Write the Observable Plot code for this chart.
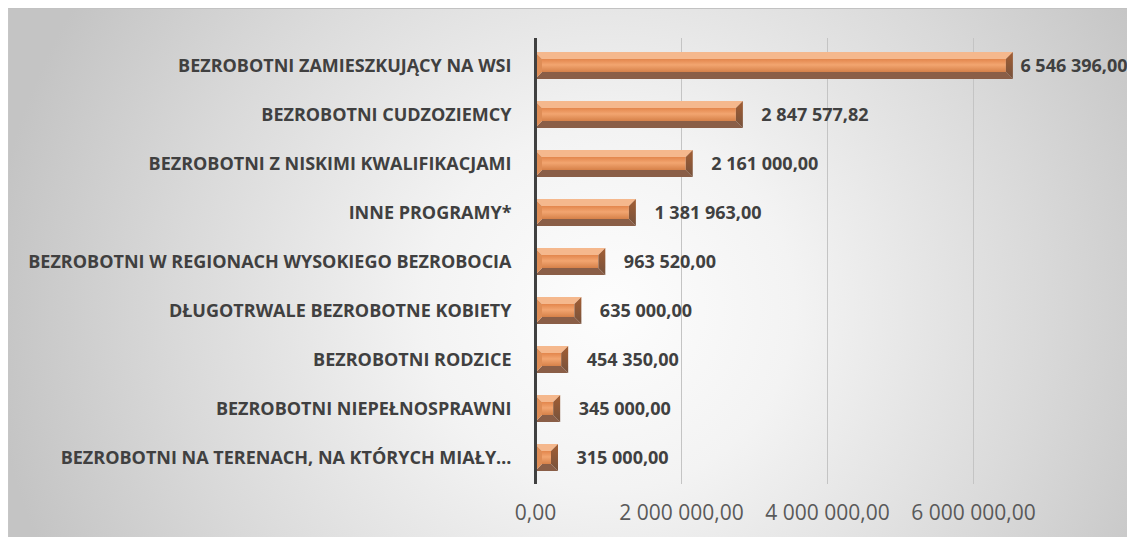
<!DOCTYPE html>
<html>
<head>
<meta charset="utf-8">
<script src="https://cdn.jsdelivr.net/npm/d3@7"></script>
<script src="https://cdn.jsdelivr.net/npm/@observablehq/plot@0.6"></script>
<style>
  html, body { margin: 0; padding: 0; background: #ffffff; }
  #wrap { position: relative; width: 1127px; height: 537px; overflow: hidden; }
  #bg {
    position: absolute; left: 8px; top: 8px; right: -2px; bottom: -2px;
    border-top: 1.5px solid #c2c2c2; border-left: 1.5px solid #c6c6c6;
    background: radial-gradient(ellipse 620px 600px at 600px 300px, #fdfdfd 0%, #f3f3f3 30%, #d9d9d9 70%, #c4c4c4 100%);
  }
  #chart { position: absolute; left: 0; top: 0; }
  #chart svg { background: transparent; font-family: "Open Sans", sans-serif; }
</style>
</head>
<body>
<div id="wrap"><div id="bg"></div><div id="chart"></div></div>
<script>
// Data
const categories = [
  "BEZROBOTNI ZAMIESZKUJĄCY NA WSI",
  "BEZROBOTNI CUDZOZIEMCY",
  "BEZROBOTNI Z NISKIMI KWALIFIKACJAMI",
  "INNE PROGRAMY*",
  "BEZROBOTNI W REGIONACH WYSOKIEGO BEZROBOCIA",
  "DŁUGOTRWALE BEZROBOTNE KOBIETY",
  "BEZROBOTNI RODZICE",
  "BEZROBOTNI NIEPEŁNOSPRAWNI",
  "BEZROBOTNI NA TERENACH, NA KTÓRYCH MIAŁY…"
];
const values = [6546396.00, 2847577.82, 2161000.00, 1381963.00, 963520.00, 635000.00, 454350.00, 345000.00, 315000.00];
const xTicks = [0, 2000000, 4000000, 6000000];
const gridTicks = [2000000, 4000000, 6000000];

const rows = categories.map((c, i) => ({category: c, value: values[i]}));
const pl = d3.formatLocale({decimal: ",", thousands: " ", grouping: [3], currency: ["", ""]});
const fmt = pl.format(",.2f");
const maxValue = d3.max(values);

const labelStyle = {x: "value", y: "category", text: d => fmt(d.value), textAnchor: "start", fontSize: 18, fontWeight: "bold", fill: "#404040"};

const chart = Plot.plot({
  width: 1127,
  height: 537,
  marginLeft: 535,
  marginRight: 8,
  marginTop: 38,
  marginBottom: 53,
  style: {background: "transparent", fontFamily: "'Open Sans', sans-serif", overflow: "visible"},
  x: {domain: [0, 8000000], axis: null},
  y: {domain: categories, paddingInner: 0.45, paddingOuter: 0.225, axis: null},
  marks: [
    Plot.ruleX(gridTicks, {stroke: "#c4c4c4", strokeWidth: 1}),
    Plot.axisX({ticks: xTicks, tickSize: 0, tickPadding: 21, tickFormat: fmt, fontSize: 21, fill: "#595959", label: null}),
    Plot.axisY({tickSize: 0, tickPadding: 24, fontSize: 18, fontWeight: "bold", fill: "#404040", label: null}),
    Plot.barX(rows, {x: "value", y: "category", fill: "#e8925a"}),
    Plot.ruleX([0], {stroke: "#404040", strokeWidth: 3}),
    // the longest bar's label is pulled in close to the bar end, as in the original
    Plot.text(rows, {...labelStyle, filter: d => d.value < maxValue, dx: 18}),
    Plot.text(rows, {...labelStyle, filter: d => d.value === maxValue, dx: 7})
  ]
});
document.getElementById("chart").appendChild(chart);

// Bevelled bar styling, built from the rectangles Plot drew
const ns = "http://www.w3.org/2000/svg";
const defs = document.createElementNS(ns, "defs");
defs.innerHTML = `
  <linearGradient id="faceGrad" x1="0" y1="0" x2="0" y2="1">
    <stop offset="0" stop-color="#e3864c"/>
    <stop offset="0.45" stop-color="#f2a570"/>
    <stop offset="1" stop-color="#d68149"/>
  </linearGradient>
  <linearGradient id="rightGrad" x1="0" y1="0" x2="0" y2="1">
    <stop offset="0" stop-color="#a35e33"/>
    <stop offset="1" stop-color="#76523d"/>
  </linearGradient>`;
chart.insertBefore(defs, chart.firstChild);
chart.querySelectorAll('g[aria-label="bar"] rect').forEach(r => {
  const x = +r.getAttribute("x"), y = +r.getAttribute("y");
  const w = +r.getAttribute("width"), h = +r.getAttribute("height");
  const b = Math.min(7, w / 2, h / 2);
  const g = document.createElementNS(ns, "g");
  const poly = (pts, fill) => {
    const p = document.createElementNS(ns, "polygon");
    p.setAttribute("points", pts.map(q => q.join(",")).join(" "));
    p.setAttribute("fill", fill);
    g.appendChild(p);
  };
  const face = document.createElementNS(ns, "rect");
  face.setAttribute("x", x + b); face.setAttribute("y", y + b);
  face.setAttribute("width", Math.max(0, w - 2 * b)); face.setAttribute("height", Math.max(0, h - 2 * b));
  face.setAttribute("fill", "url(#faceGrad)");
  g.appendChild(face);
  poly([[x, y], [x + w, y], [x + w - b, y + b], [x + b, y + b]], "#f5b88d");
  poly([[x, y + h], [x + w, y + h], [x + w - b, y + h - b], [x + b, y + h - b]], "#8a5e47");
  poly([[x, y], [x + b, y + b], [x + b, y + h - b], [x, y + h]], "#df8d56");
  poly([[x + w, y], [x + w - b, y + b], [x + w - b, y + h - b], [x + w, y + h]], "url(#rightGrad)");
  r.replaceWith(g);
});
</script>
</body>
</html>
